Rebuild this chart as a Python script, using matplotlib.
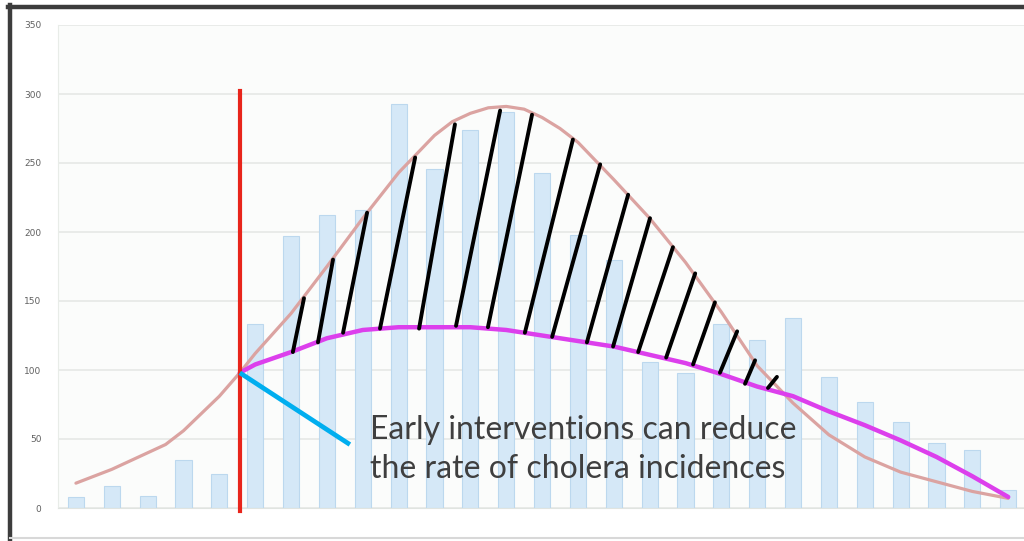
import matplotlib
matplotlib.use("Agg")
import matplotlib.pyplot as plt
from matplotlib.lines import Line2D
import numpy as np

# ---- data ----
bar_values = [8, 16, 9, 35, 25, 133, 197, 212, 216, 293, 246, 274, 287, 243,
              198, 180, 106, 98, 133, 122, 138, 95, 77, 62, 47, 42, 13]

# expected epidemic curve (pink)
pink_x = [0, 1, 2, 2.5, 3, 3.8, 4, 4.57, 5, 6, 7, 8, 9, 10, 10.5, 11, 11.5, 12,
          12.5, 13, 13.5, 14, 15, 16, 17, 18, 19, 20, 21, 22, 23, 24, 25, 26]
pink_y = [18, 28, 40, 46, 56, 76, 81, 98, 112, 141, 175, 210, 243, 270, 280,
          286, 290, 291, 289, 283, 275, 265, 238, 210, 178, 142, 103, 76, 53,
          37, 26, 19, 12, 7]

# curve with early interventions (magenta)
mag_x = [4.57, 5, 6, 7, 8, 9, 10, 11, 12, 13, 14, 15, 16, 17, 18, 19, 20, 21,
         22, 23, 24, 25, 26]
mag_y = [98, 104, 113, 123, 129, 131, 131, 131, 129, 125, 121, 117, 111, 105,
         97, 88, 81, 70, 60, 49, 37, 23, 8]

# hatch strokes between the two curves (bottom on magenta, top on pink)
hatch_x0 = [6.05, 6.75, 7.45, 8.48, 9.57, 10.60, 11.49, 12.52, 13.28, 14.25,
            14.98, 15.68, 16.46, 17.21, 17.96, 18.66, 19.30]
hatch_y0 = [113, 120, 127, 130, 130, 132, 131, 127, 124, 120, 117, 113, 109,
            104, 98, 90, 87]
hatch_x1 = [6.36, 7.17, 8.12, 9.46, 10.57, 11.83, 12.72, 13.86, 14.62, 15.40,
            16.01, 16.65, 17.27, 17.82, 18.44, 18.94, 19.55]
hatch_y1 = [152, 180, 214, 254, 278, 288, 285, 267, 249, 227, 210, 189, 170,
            149, 128, 107, 95]

intervention_x = 4.57
intervention_top = 302
pointer_x = [4.57, 7.64]
pointer_y = [98, 46]

y_ticks = [0, 50, 100, 150, 200, 250, 300, 350]
annotation = "Early interventions can reduce\nthe rate of cholera incidences"

# ---- figure ----
W, H = 1024, 541
fig = plt.figure(figsize=(W / 100, H / 100), dpi=100)
fig.patch.set_facecolor("white")

left_px, right_px = 58, 1024
bottom_px, top_px = 508, 25
ax = fig.add_axes([left_px / W, (H - bottom_px) / H,
                   (right_px - left_px) / W, (bottom_px - top_px) / H])
ax.set_facecolor("#fbfcfb")

x = np.arange(len(bar_values))
ax.bar(x, bar_values, width=0.45, color="#d5e8f7", edgecolor="#bcd8ee",
       linewidth=0.8, zorder=2)

ax.set_xlim(-0.5, 26.44)
ax.set_ylim(0, 350)
ax.set_yticks(y_ticks)
ax.set_yticklabels([str(v) for v in y_ticks], fontsize=6.5, color="#606060")
ax.tick_params(axis="y", length=0, pad=12)
ax.tick_params(axis="x", length=0, labelbottom=False)
ax.grid(axis="y", color="#e6e8e6", linewidth=1.2, zorder=0)
ax.set_axisbelow(True)
for s in ["top", "right"]:
    ax.spines[s].set_visible(False)
ax.spines["left"].set_color("#e8ece8")
ax.spines["bottom"].set_color("#e0e4e0")
ax.spines["left"].set_linewidth(0.8)
ax.spines["bottom"].set_linewidth(0.8)

# curves
ax.plot(pink_x, pink_y, color="#dba3a1", linewidth=2.3, zorder=4,
        solid_capstyle="round", solid_joinstyle="round")
ax.plot(mag_x, mag_y, color="#dc3fec", linewidth=3.2, zorder=5,
        solid_capstyle="round", solid_joinstyle="round")

for a, b, c, d in zip(hatch_x0, hatch_y0, hatch_x1, hatch_y1):
    ax.plot([a, c], [b, d], color="black", linewidth=2.8, zorder=6,
            solid_capstyle="round")

# intervention marker
ax.plot([intervention_x, intervention_x], [-2, intervention_top],
        color="#e8251b", linewidth=3.0, zorder=7, clip_on=False)
ax.plot(pointer_x, pointer_y, color="#00aeef", linewidth=3.4, zorder=7,
        solid_capstyle="butt")

ax.text(8.2, 67.5, annotation, fontsize=23, color="#3f3f3f",
        family=["Lato", "DejaVu Sans"], ha="left", va="top",
        linespacing=1.38, zorder=8)

# outer frame
fig.add_artist(Line2D([10 / W, 10 / W], [0, (H - 5) / H], color="#3c3c3c",
                      linewidth=3.2, transform=fig.transFigure))
fig.add_artist(Line2D([8 / W, 1], [(H - 7) / H, (H - 7) / H], color="#3c3c3c",
                      linewidth=3.2, transform=fig.transFigure))
fig.add_artist(Line2D([10 / W, 1], [(H - 538) / H, (H - 538) / H],
                      color="#d8d8d8", linewidth=1.5, transform=fig.transFigure))

fig.savefig("out.png", dpi=100, facecolor="white")
